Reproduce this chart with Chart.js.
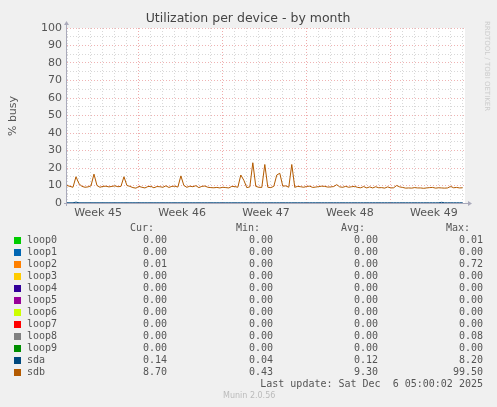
<!DOCTYPE html>
<html><head><meta charset="utf-8">
<script src="https://cdn.jsdelivr.net/npm/chart.js@4/dist/chart.umd.min.js"></script>
<style>
body{margin:0;background:#f0f0f0;width:497px;height:407px;overflow:hidden;position:relative;font-family:"DejaVu Sans",sans-serif}
#wrap{position:absolute;left:0;top:0;width:497px;height:407px}
.t{position:absolute;white-space:pre;font-family:"DejaVu Sans Mono",monospace;font-size:10px;color:#555;line-height:12px}
.sq{position:absolute;width:7px;height:7px}
</style></head><body>
<div id="wrap"><canvas id="c" width="497" height="407"></canvas></div>
<div id="legend"></div>
<script>
// x values: days since left edge of the plot (4 samples per day)
const weekLabels = ["Week 45","Week 46","Week 47","Week 48","Week 49"];
const weekLabelDays = [2.6, 9.6, 16.6, 23.6, 30.6];
const weekBoundaryDays = [6, 13, 20, 27];
const yTicks = [0,10,20,30,40,50,60,70,80,90,100];
const sdb = [10,9.5,9,15,11,9.5,9,9.2,9.8,16.5,10,9,9.5,9.6,9.2,9.5,9.8,9.3,9.5,15,10,9.5,8.8,8.5,9.5,9,8.6,9.4,9.5,8.7,9.4,9.3,9,9.8,8.9,9.5,9.6,9.1,15.5,10,9,9.6,9.3,9.9,8.8,9.5,9.7,9,8.8,8.7,8.9,8.6,9,8.8,8.6,9.5,9.4,9,16,13,8.8,9.2,23,9.5,9,8.9,22,9,8.8,9.5,16,17,9.6,9.8,9,22,9,9.5,9.3,9,9.5,9.6,8.9,9.1,9.4,9.6,9.5,9.1,9.2,9.4,10.5,9.2,9,9.5,9,9.3,9.5,8.9,8.7,9.4,8.6,9.2,8.6,9.3,8.7,8.8,8.5,9.2,8.6,8.7,10,9.2,8.9,8.5,8.6,8.5,8.8,8.6,8.6,8.4,8.6,8.8,8.9,8.5,8.7,8.6,8.5,8.6,9.5,8.7,8.9,8.6,8.7];
const sda = sdb.map(()=>0.12);
sda[3]=0.5; sda[125]=0.4;
const names=["loop0","loop1","loop2","loop3","loop4","loop5","loop6","loop7","loop8","loop9","sda","sdb"];
const colors=["#00cc00","#0066b3","#ff8000","#ffcc00","#330099","#990099","#ccff00","#ff0000","#808080","#008f00","#00487d","#b35a00"];
const cur=["0.00","0.00","0.01","0.00","0.00","0.00","0.00","0.00","0.00","0.00","0.14","8.70"];
const mn=["0.00","0.00","0.00","0.00","0.00","0.00","0.00","0.00","0.00","0.00","0.04","0.43"];
const avg=["0.00","0.00","0.00","0.00","0.00","0.00","0.00","0.00","0.00","0.00","0.12","9.30"];
const mx=["0.01","0.00","0.72","0.00","0.00","0.00","0.00","0.00","0.08","0.00","8.20","99.50"];

const pts = a => a.map((v,i)=>({x:i/4, y:v}));
const overlay={id:'ov',afterDraw(ch){
  const c=ch.ctx,xs=ch.scales.x,ys=ch.scales.y,a=ch.chartArea;
  c.save();
  c.font='11px "DejaVu Sans"';c.fillStyle='#555';c.textAlign='right';c.textBaseline='middle';
  yTicks.forEach(v=>c.fillText(String(v),a.left-5,ys.getPixelForValue(v)));
  c.textAlign='center';c.textBaseline='top';
  weekLabels.forEach((l,i)=>c.fillText(l,xs.getPixelForValue(weekLabelDays[i]),a.bottom+5));
  c.strokeStyle='#aab';c.fillStyle='#aab';c.lineWidth=1;
  c.beginPath();c.moveTo(a.left-3,a.bottom+0.5);c.lineTo(a.right+4,a.bottom+0.5);c.stroke();
  c.beginPath();c.moveTo(a.right+7,a.bottom+0.5);c.lineTo(a.right+3,a.bottom-2);c.lineTo(a.right+3,a.bottom+3);c.fill();
  c.beginPath();c.moveTo(a.left-0.5,a.bottom+3);c.lineTo(a.left-0.5,a.top-4);c.stroke();
  c.beginPath();c.moveTo(a.left-0.5,a.top-7);c.lineTo(a.left-3,a.top-3);c.lineTo(a.left+2,a.top-3);c.fill();
  c.font='12.5px "DejaVu Sans"';c.fillStyle='#444';c.textAlign='center';c.textBaseline='middle';
  c.fillText('Utilization per device - by month',248,19);
  c.translate(13,116);c.rotate(-Math.PI/2);c.font='11px "DejaVu Sans"';c.fillStyle='#555';
  c.fillText('% busy',0,0);
  c.setTransform(1,0,0,1,0,0);
  c.translate(487,66);c.rotate(Math.PI/2);c.font='7px "DejaVu Sans"';c.fillStyle='#ccc';
  c.fillText('RRDTOOL / TOBI OETIKER',0,0);
  c.restore();
}};
const bg={id:'bg',beforeDraw(ch){const a=ch.chartArea,c=ch.ctx;c.save();c.fillStyle='#fff';c.fillRect(a.left,a.top,a.right-a.left,a.bottom-a.top);c.restore();}};
new Chart(document.getElementById('c'),{
  type:'line',
  data:{datasets:[
    {data:pts(sda),borderColor:colors[10],borderWidth:1,pointRadius:0,tension:0},
    {data:pts(sdb),borderColor:colors[11],borderWidth:1,pointRadius:0,tension:0}
  ]},
  options:{responsive:false,animation:false,
    layout:{padding:{left:67,top:28,right:32,bottom:204}},
    plugins:{legend:{display:false},tooltip:{enabled:false}},
    scales:{
      x:{type:'linear',min:0,max:33.2,afterFit:s=>{s.height=0},
        afterBuildTicks:s=>{const t=[];for(let d=0;d<=33;d++)t.push({value:d});s.ticks=t;},
        ticks:{display:false},border:{display:false,dash:[1,2]},
        grid:{drawTicks:false,color:ctx=>weekBoundaryDays.includes(ctx.tick&&ctx.tick.value)?'rgba(235,150,150,0.8)':'#d8d8d8',lineWidth:1}},
      y:{min:0,max:100,afterFit:s=>{s.width=0},
        afterBuildTicks:s=>{const t=[];for(let v=0;v<=100;v+=5)t.push({value:v});s.ticks=t;},
        ticks:{display:false},border:{display:false,dash:[1,2]},
        grid:{drawTicks:false,color:ctx=>(ctx.tick&&ctx.tick.value%10===0)?'rgba(235,160,160,0.8)':'#d8d8d8'}}
    }},
  plugins:[bg,overlay]
});
// legend table as HTML
const L=document.getElementById('legend');
function txt(s,x,y,align,extra){const d=document.createElement('div');d.className='t';d.textContent=s;d.style.top=(y-6)+'px';
  if(align==='r'){d.style.right=(497-x)+'px';}else d.style.left=x+'px';if(extra)Object.assign(d.style,extra);L.appendChild(d);}
txt('Cur:',154,228,'r');txt('Min:',260,228,'r');txt('Avg:',365,228,'r');txt('Max:',470,228,'r');
names.forEach((n,i)=>{const y=240+i*12;const s=document.createElement('div');s.className='sq';s.style.left='14px';s.style.top=(y-3)+'px';s.style.background=colors[i];L.appendChild(s);
  txt(n,27,y);txt(cur[i],167,y,'r');txt(mn[i],273,y,'r');txt(avg[i],378,y,'r');txt(mx[i],483,y,'r');});
txt('Last update: Sat Dec  6 05:00:02 2025',483,384,'r');
txt('Munin 2.0.56',223,396,'l',{fontFamily:'"DejaVu Sans"',fontSize:'8px',color:'#bbb'});
</script></body></html>
